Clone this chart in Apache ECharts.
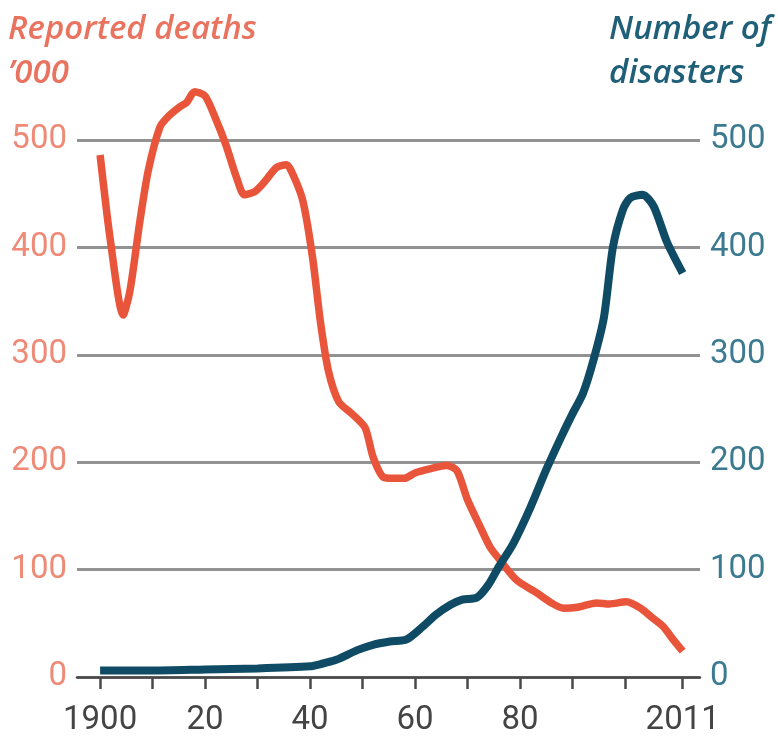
<!DOCTYPE html>
<html>
<head>
<meta charset="utf-8">
<script src="https://cdn.jsdelivr.net/npm/echarts@6/dist/echarts.min.js"></script>
<style>
  html, body { margin: 0; padding: 0; background: #fff; }
  #chart { width: 778px; height: 744px; }
</style>
</head>
<body>
<div id="chart"></div>
<script>
// reported deaths, '000
var deathYears = [1900, 1902, 1904.4, 1905.7, 1907.6, 1909.2, 1911.4, 1913, 1915.2, 1916.5, 1918, 1920, 1922, 1924, 1926, 1927.5, 1929.5, 1931.5, 1933.5, 1935.5, 1937, 1938.7, 1940.5, 1942, 1943.5, 1945.5, 1948, 1950.5, 1952, 1954, 1956, 1958, 1960, 1963, 1966, 1968, 1970, 1972.4, 1974.3, 1976, 1979.4, 1983, 1986, 1988.3, 1991, 1994.6, 1997, 2000.3, 2003, 2005, 2007.3, 2009, 2011];
var deathValues = [486, 405, 337, 360, 425, 472, 512, 522, 531, 535, 545, 541, 520, 495, 465, 449, 452, 462, 474, 477, 465, 442, 390, 330, 285, 256, 245, 232, 205, 186, 185, 185, 190, 194, 197, 192, 165, 140, 121, 110, 90, 79, 69, 64, 65, 69, 68, 70, 64, 56, 47, 36, 24];

// number of disasters
var disasterYears = [1900, 1910, 1920, 1930, 1940, 1942, 1945, 1949, 1952, 1955.2, 1958.4, 1961.5, 1964, 1966.7, 1969, 1971.8, 1974, 1976, 1978.7, 1982, 1985, 1988, 1990, 1992, 1994, 1996, 1997.7, 1999.6, 2001, 2003.4, 2005.5, 2008, 2011];
var disasterValues = [6, 6, 7, 8, 10, 12, 16, 25, 30, 33, 35, 47, 58, 67, 72, 74, 86, 103, 124, 158, 193, 225, 245, 264, 295, 335, 400, 435, 446, 449, 438, 405, 376];

var tickYears = [1900, 1910, 1920, 1930, 1940, 1950, 1960, 1970, 1980, 1990, 2000, 2011];
var labelYears = [1900, 1920, 1940, 1960, 1980, 2011];

function pairs(xs, ys) {
    var out = [];
    for (var i = 0; i < xs.length; i++) out.push([xs[i], ys[i]]);
    return out;
}

var red = '#e8553b';
var teal = '#0f4b64';
var titleFont = { fontStyle: 'italic', fontWeight: 600, fontSize: 33, lineHeight: 44, fontFamily: 'Open Sans' };

var myChart = echarts.init(document.getElementById('chart'));
var option = {
    animation: false,
    graphic: [
        {
            type: 'text', left: 8, top: 8,
            style: Object.assign({ text: 'Reported deaths\n\u2019000', fill: '#e9735f', align: 'left' }, titleFont)
        },
        {
            type: 'text', right: 7, top: 8,
            style: Object.assign({ text: 'Number of\ndisasters', fill: '#1f5f77', align: 'right' }, titleFont)
        }
    ],
    grid: { left: 77, right: 78, top: 140, bottom: 67 },
    xAxis: {
        type: 'value',
        min: 1895.6,
        max: 2014.3,
        splitLine: { show: false },
        axisLine: { lineStyle: { color: '#4a4a4a', width: 2.5 } },
        axisTick: { show: true, customValues: tickYears, length: 12, lineStyle: { color: '#4a4a4a', width: 2.5 } },
        axisLabel: {
            customValues: labelYears,
            margin: 27,
            color: '#444',
            fontSize: 33,
            fontFamily: 'Roboto',
            formatter: function (v) {
                if (v === 1900 || v === 2011) return String(v);
                return String(v).slice(2);
            }
        }
    },
    yAxis: [
        {
            type: 'value', min: 0, max: 500, interval: 100,
            axisLine: { show: false }, axisTick: { show: false },
            splitLine: { lineStyle: { color: '#929292', width: 3 } },
            axisLabel: { color: '#ee8a76', fontSize: 33, fontFamily: 'Roboto', margin: 10 }
        },
        {
            type: 'value', min: 0, max: 500, interval: 100,
            axisLine: { show: false }, axisTick: { show: false },
            splitLine: { show: false },
            axisLabel: { color: '#3b7a90', fontSize: 33, fontFamily: 'Roboto', margin: 10 }
        }
    ],
    series: [
        {
            type: 'line', yAxisIndex: 0, clip: false, showSymbol: false, smooth: 0.25,
            lineStyle: { color: red, width: 7.5 },
            data: pairs(deathYears, deathValues)
        },
        {
            type: 'line', yAxisIndex: 1, clip: false, showSymbol: false, smooth: 0.25,
            lineStyle: { color: teal, width: 8 },
            data: pairs(disasterYears, disasterValues)
        }
    ]
};
myChart.setOption(option);
</script>
</body>
</html>
